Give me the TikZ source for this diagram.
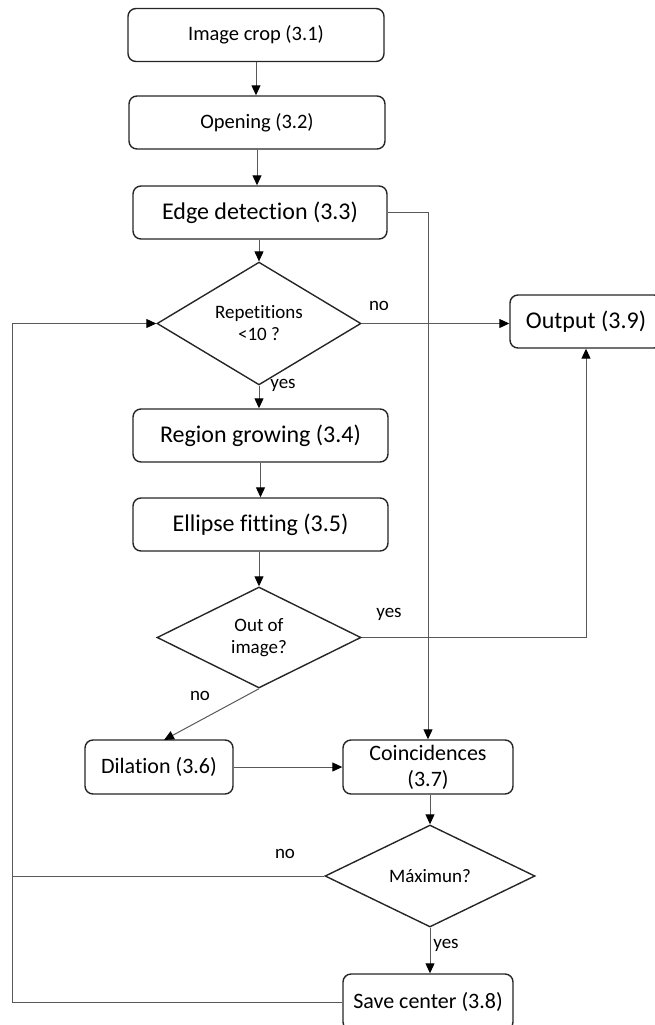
\documentclass[tikz,border=0pt]{standalone}
\usepackage{fontspec}
\setmainfont[Ligatures=NoCommon]{Carlito}
\usetikzlibrary{arrows.meta,shapes.geometric}
\tikzset{
  procbox/.style={draw=black!85, line width=1.4pt, rounded corners=8pt, inner sep=0pt, align=center, fill=white},
  decbox/.style={draw=black!85, line width=1.4pt, diamond, inner sep=0pt, align=center, font=\fontsize{19}{23}\selectfont},
  conn/.style={draw=black!65, line width=1pt},
  arr/.style={conn, -{Triangle[length=10pt,width=9pt,color=black,fill=black]}},
  lbl/.style={font=\fontsize{19}{22}\selectfont, inner sep=0pt},
  fsmall/.style={font=\fontsize{20.5}{24}\selectfont},
  fmid/.style={font=\fontsize{22}{26}\selectfont},
  fbig/.style={font=\fontsize{24}{28}\selectfont}
}
\begin{document}
\begin{tikzpicture}[x=1pt,y=-1pt]
\useasboundingbox (0,0) rectangle (655,1025);
% process boxes
\node[procbox,fsmall,minimum width=256pt,minimum height=53pt] (crop) at (256,35) {Image crop (3.1)};
\node[procbox,fsmall,minimum width=256pt,minimum height=53pt] (open) at (257,122.5) {Opening (3.2)};
\node[procbox,fbig,minimum width=254pt,minimum height=53pt] (edge) at (260,212.5) {Edge detection (3.3)};
\node[decbox,minimum width=204pt,minimum height=101pt] (rep) at (259,323.5) {Repetitions\\[-1pt]<10 ?};
\node[procbox,fbig,minimum width=152pt,minimum height=53pt] (output) at (586,321.5) {Output (3.9)};
\node[procbox,fbig,minimum width=255pt,minimum height=53pt] (region) at (260.5,435.5) {Region growing (3.4)};
\node[procbox,fbig,minimum width=255pt,minimum height=53pt] (ellipse) at (260.5,524.5) {Ellipse fitting (3.5)};
\node[decbox,minimum width=204pt,minimum height=101pt] (outimg) at (259,637.5) {Out of\\[-1pt]image?};
\node[procbox,fmid,minimum width=148pt,minimum height=54pt] (dil) at (159,767) {Dilation (3.6)};
\node[procbox,fmid,minimum width=170pt,minimum height=54pt] (coin) at (428,767) {Coincidences\\(3.7)};
\node[decbox,minimum width=210pt,minimum height=102pt] (max) at (430,876) {Máximun?};
\node[procbox,fmid,minimum width=170pt,minimum height=56pt] (save) at (428,1002) {Save center (3.8)};
% coordinates
\coordinate (edgeturn) at (428,212.5);
\coordinate (outturn) at (586,637.5);
\coordinate (maxleft) at (12,876);
\coordinate (loopbot) at (12,1002);
\coordinate (looptop) at (12,323.5);
\coordinate (diltip) at (164,740);
% connectors
\draw[arr] (crop.south) -- (crop.south |- open.north);
\draw[arr] (open.south) -- (open.south |- edge.north);
\draw[arr] (rep.north |- edge.south) -- (rep.north);
\draw[arr] (rep.south) -- (rep.south |- region.north);
\draw[arr] (region.south) -- (region.south |- ellipse.north);
\draw[arr] (outimg.north |- ellipse.south) -- (outimg.north);
\draw[arr] (edge.east) -- (edgeturn) -- (edgeturn |- coin.north);
\draw[arr] (rep.east) -- (rep.east -| output.west);
\draw[arr] (outimg.east) -- (outturn) -- (outturn |- output.south);
\draw[arr] (outimg.south) -- (diltip);
\draw[arr] (dil.east) -- (coin.west);
\draw[arr] (max.north |- coin.south) -- (max.north);
\draw[arr] (max.south) -- (max.south |- save.north);
\draw[conn] (max.west) -- (maxleft);
\draw[arr] (save.west) -- (loopbot) -- (looptop) -- (rep.west);
% labels
\node[lbl] (lno1) at (379,306) {no};
\node[lbl] (lyes1) at (283,385) {yes};
\node[lbl] (lyes2) at (389,614) {yes};
\node[lbl] (lno2) at (200,696) {no};
\node[lbl] (lno3) at (285,854) {no};
\node[lbl] (lyes3) at (446,945) {yes};
\end{tikzpicture}
\end{document}
